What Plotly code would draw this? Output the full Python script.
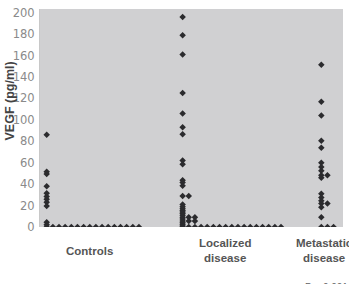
import plotly.graph_objects as go
from collections import Counter

# ---- data (VEGF pg/ml per patient) ----
groups = ["Controls", "Localized<br>disease", "Metastatic<br>disease"]
controls = [86, 51.5, 49.5, 38, 31.5, 28.5, 26, 23, 19.5, 4.5, 2] + [0] * 16
localized = [196, 179, 161, 125, 106, 93, 86.5, 62, 58.5, 43.7, 41.5, 38.5,
             29, 29, 21, 19, 17, 15.5, 14, 12.5, 11, 9, 9, 9, 7.5,
             5.5, 5.5, 5.5, 4, 2.5, 1] + [0] * 17
metastatic = [151.5, 117, 104, 80.5, 74, 60, 56, 52.5, 48.3, 48.3, 46,
              31, 27.5, 24.5, 22, 22, 18.5, 9] + [0] * 3
group_values = [controls, localized, metastatic]
group_base = [0, 22.1, 44.65]          # column position of each group
label_x = [6.9, 29.0, 45.2]
yticks = list(range(0, 201, 20))


def spread(values, base):
    """Place tied values side by side, one column step apart."""
    seen = Counter()
    xs = []
    for v in values:
        xs.append(base + seen[v])
        seen[v] += 1
    return xs


fig = go.Figure()
for vals, base in zip(group_values, group_base):
    fig.add_trace(go.Scatter(
        x=spread(vals, base), y=vals, mode="markers",
        marker=dict(symbol="diamond", size=5, color="#2b2b2e",
                    line=dict(width=0)),
        showlegend=False, hoverinfo="y"))

for g, lx in zip(groups, label_x):
    fig.add_annotation(x=lx, xref="x", y=-0.108, yref="paper", text=f"<b>{g}</b>",
                       showarrow=False, xanchor="center", yanchor="middle",
                       font=dict(family="Liberation Sans, Arial", size=11.5, color="#555555"))

fig.add_annotation(x=-0.100, xref="paper", y=0.579, yref="paper",
                   text="<b>VEGF (pg/ml)</b>", textangle=-90, showarrow=False,
                   xanchor="center", yanchor="middle",
                   font=dict(family="Liberation Sans, Arial", size=12.5, color="#444444"))

fig.add_annotation(x=1.0, xref="paper", y=-0.245, yref="paper",
                   text="P < 0.001", showarrow=False, xanchor="left", yanchor="top",
                   font=dict(family="Liberation Sans, Arial", size=10, color="#666666"),
                   xshift=-40)

fig.update_layout(
    width=349, height=284,
    margin=dict(l=40, r=6, t=6, b=57),
    paper_bgcolor="white", plot_bgcolor="#d0d0d2",
    xaxis=dict(range=[-1.09, 48.18], showticklabels=False, showgrid=False,
               zeroline=False, showline=False, ticks=""),
    yaxis=dict(range=[0, 203.5], tickvals=yticks, showgrid=False, zeroline=False,
               showline=True, linecolor="#c8c8c8", linewidth=1, ticks="",
               ticklabelstandoff=2,
               tickfont=dict(family="DejaVu Sans", size=11.5, color="#8a8a8a")),
)

fig.write_html("out.html")
